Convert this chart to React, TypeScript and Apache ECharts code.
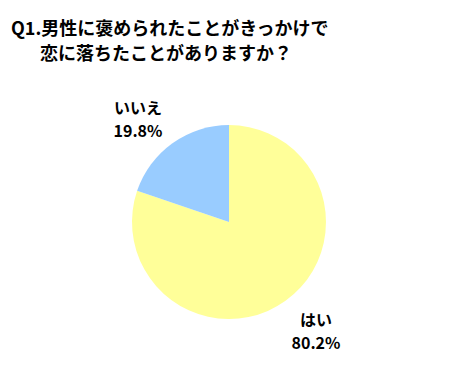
import React, { useEffect, useRef } from "react";
import * as echarts from "echarts";

const titleLines = ["Q1.男性に褒められたことがきっかけで", "恋に落ちたことがありますか？"];
const categories = ["はい", "いいえ"];
const values = [80.2, 19.8];
const colors = ["#FFFF99", "#99CCFF"];

const FONT = "'Noto Sans CJK JP', 'Noto Sans', sans-serif";

export default function App() {
  const ref = useRef<HTMLDivElement>(null);
  useEffect(() => {
    if (!ref.current) return;
    const chart = echarts.init(ref.current, undefined, { renderer: "svg" });
    const labelPos = [
      { x: 316, y: 330 },
      { x: 138, y: 118 },
    ];
    const tStyle = { fontFamily: FONT, fontSize: 18, lineHeight: 25, fontWeight: "bold", color: "#000" };
    chart.setOption({
      animation: false,
      backgroundColor: "#ffffff",
      title: {
        text: `{a|${titleLines[0]}}\n{b|${titleLines[1]}}`,
        left: 11,
        top: 14,
        padding: 0,
        textStyle: {
          ...tStyle,
          rich: {
            a: { ...tStyle },
            b: { ...tStyle, padding: [0, 0, 0, 29] },
          },
        },
      },
      series: [
        {
          type: "pie",
          center: [229, 222],
          radius: 97,
          startAngle: 90,
          clockwise: true,
          silent: true,
          data: categories.map((c, i) => ({
            name: c,
            value: values[i],
            itemStyle: { color: colors[i] },
          })),
          label: {
            show: true,
            position: "outside",
            formatter: (p: any) => `${p.name}\n${p.value.toFixed(1)}%`,
            fontFamily: FONT,
            fontSize: 16,
            fontWeight: "bold",
            color: "#000",
            lineHeight: 23,
            align: "center",
          },
          labelLine: { show: false },
          labelLayout: (params: any) => ({
            x: labelPos[params.dataIndex].x,
            y: labelPos[params.dataIndex].y,
            align: "center",
            verticalAlign: "middle",
          }),
        },
      ],
    });
    return () => chart.dispose();
  }, []);
  return <div ref={ref} style={{ width: 459, height: 380, margin: -8 }} />;
}
